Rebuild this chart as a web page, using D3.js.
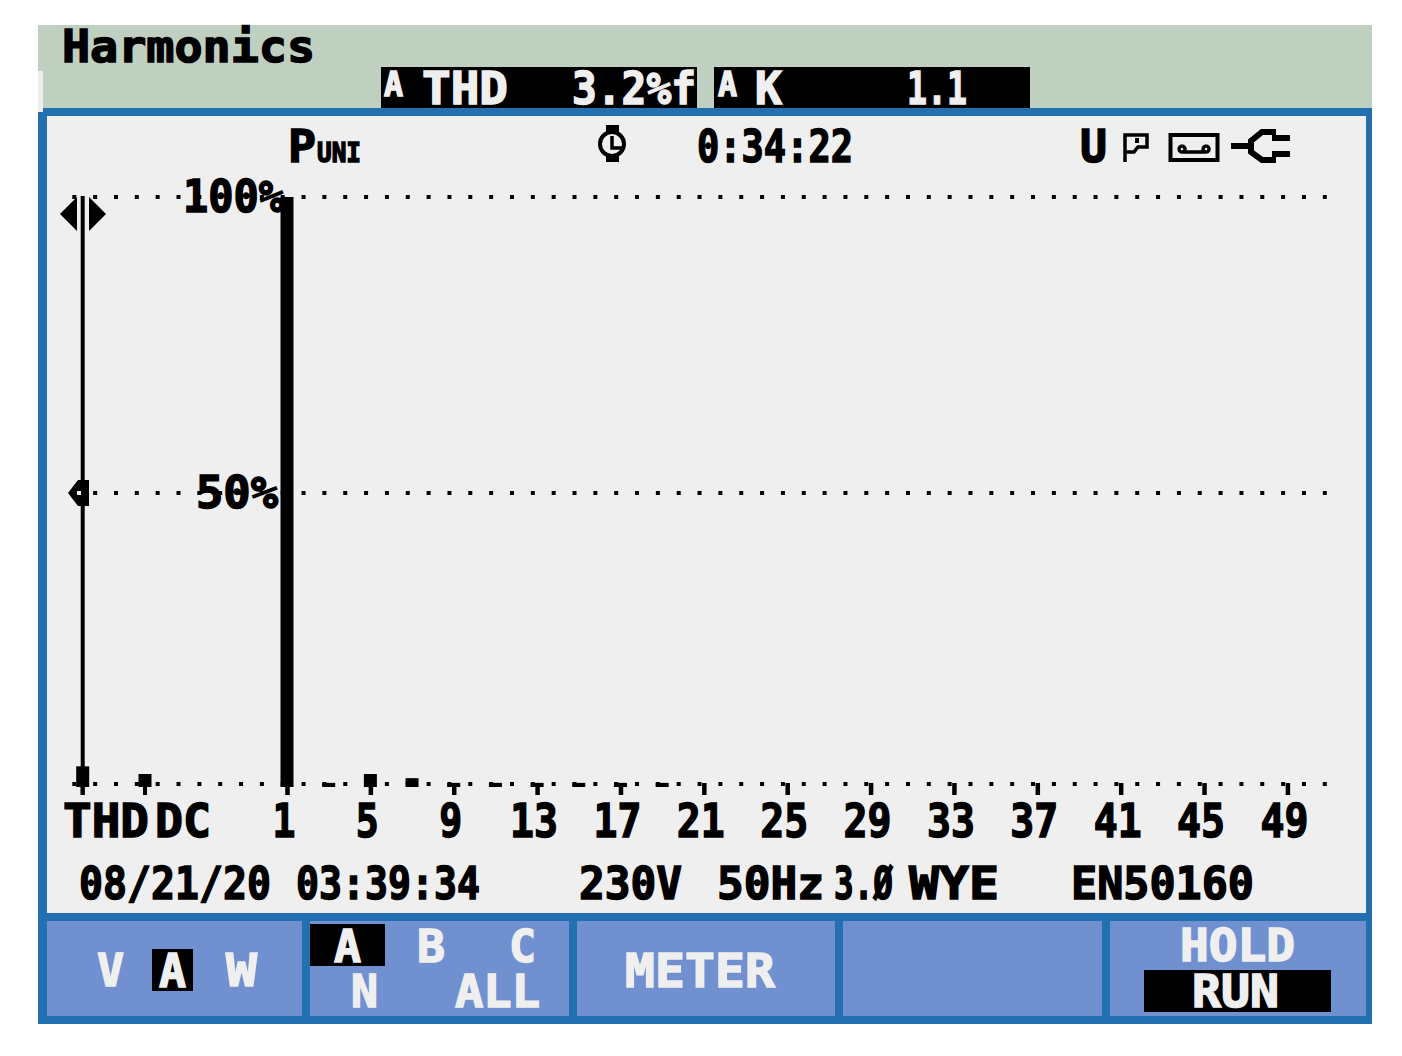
<!DOCTYPE html>
<html>
<head>
<meta charset="utf-8">
<title>Harmonics</title>
<script src="https://cdn.jsdelivr.net/npm/d3@7"></script>
<style>
    html, body { margin: 0; padding: 0; background: #fff; }
    svg { display: block; }
    text { font-family: "DejaVu Sans Mono", "Liberation Mono", monospace; font-weight: bold; }
</style>
</head>
<body>
<svg id="chart" width="1402" height="1056"></svg>
<script>
// Values, in percent of the fundamental
const thdValue = 3.5;
const dcValue = 2.2;
const harmonicValues = [
    100, 0, 0.7, 0, 2.2, 0, 1.5, 0, 0.7, 0,
    0.7, 0, 0.7, 0, 0.7, 0, 0.7, 0, 0.7, 0,
    0, 0, 0, 0, 0, 0, 0, 0, 0, 0,
    0, 0, 0, 0, 0, 0, 0, 0, 0, 0,
    0, 0, 0, 0, 0, 0, 0, 0, 0, 0
];
const tickOrders = [1, 5, 9, 13, 17, 21, 25, 29, 33, 37, 41, 45, 49];
const gridLevels = [0, 50, 100];
const levelLabels = ["50%", "100%"];

const BLUE = "#2270b0";
const KEY = "#7090d0";
const PANEL = "#efefef";
const GREEN = "#bfcfc0";

const svg = d3.select("#chart");

// Scales: the harmonics sit on a regular slot grid, THD and DC are off to the left of it
const x = d3.scaleLinear().domain([1, 49]).range([287, 1287.4]);
const y = d3.scaleLinear().domain([0, 100]).range([787, 197]);
const slotWidth = x(2) - x(1);
const xThd = 82.7;
const xDc = 145;

function box(x0, y0, x1, y1, fill) {
    return svg.append("rect")
        .attr("x", x0).attr("y", y0)
        .attr("width", x1 - x0).attr("height", y1 - y0)
        .attr("fill", fill);
}

// Fit a string between two x positions, with its caps between top and baseline
function label(str, x0, x1, top, baseline, fill = "#000") {
    return svg.append("text")
        .attr("x", x0 - 1)
        .attr("y", baseline)
        .attr("font-size", (baseline - top) / 0.729)
        .attr("textLength", x1 - x0 + 2)
        .attr("lengthAdjust", "spacingAndGlyphs")
        .attr("fill", fill)
        .attr("stroke", fill)
        .attr("stroke-width", 1.5)
        .text(str);
}

// Screen frame
box(38, 25, 1372, 108, GREEN);
box(38, 108, 1372, 1024, BLUE);
box(38, 71, 43, 112, "#eeeeee");
box(47, 116, 1366, 913, PANEL);

const keyEdges = [[47, 302], [310, 569], [577, 835], [843, 1102], [1110, 1366]];
keyEdges.forEach(([a, b]) => box(a, 921, b, 1016, KEY));

// Header
label("Harmonics", 63, 314, 29, 62);
box(381, 67, 697, 108, "#000");
box(714, 67, 1030, 108, "#000");
label("A", 385, 402, 72, 96, PANEL);
label("THD", 423, 507, 71, 104, PANEL);
label("3.2%f", 573, 695, 71, 104, PANEL);
label("A", 719, 736, 72, 96, PANEL);
label("K", 756, 781, 71, 104, PANEL);
label("1.1", 908, 966, 71, 104, PANEL);

// Status row above the plot
label("P", 289, 315, 129, 162);
label("UNI", 318, 360, 142, 162);
label("0:34:22", 698, 852, 129, 162);
label("U", 1081, 1106, 129, 162);

// Clock icon
svg.append("circle").attr("cx", 612).attr("cy", 144).attr("r", 12)
    .attr("fill", "none").attr("stroke", "#000").attr("stroke-width", 4);
svg.append("path").attr("d", "M612,136V148H622")
    .attr("fill", "none").attr("stroke", "#000").attr("stroke-width", 3.5);
box(606, 125, 619, 132, "#000");
box(606, 155, 619, 162, "#000");

// Flag icon
svg.append("path").attr("d", "M1125,162V135H1147V147H1138L1134,152H1126")
    .attr("fill", "none").attr("stroke", "#000").attr("stroke-width", 3.5);
box(1135, 138, 1139, 143, "#000");

// Tape icon
svg.append("rect").attr("x", 1170.5).attr("y", 135).attr("width", 47).attr("height", 25)
    .attr("fill", "none").attr("stroke", "#000").attr("stroke-width", 4);
svg.append("path").attr("d", "M1182,146a3,3 0 1,0 0.1,0M1206,146a3,3 0 1,0 0.1,0M1182,152H1206")
    .attr("fill", "none").attr("stroke", "#000").attr("stroke-width", 3.5);

// Plug icon
svg.append("path").attr("d", "M1231,146H1250M1276,132H1262L1251,141V152L1262,160H1276M1272,138H1290M1272,154H1290")
    .attr("fill", "none").attr("stroke", "#000").attr("stroke-width", 6);

// Dotted level lines
const dotXs = d3.range(0, 61).map((i) => xThd - 8.4 + i * slotWidth);
gridLevels.forEach((level) => {
    svg.append("g").selectAll("rect")
        .data(dotXs)
        .join("rect")
        .attr("x", (d) => d - 2)
        .attr("y", y(level) - (level === 0 ? 5 : level === 50 ? 1 : 2))
        .attr("width", 4)
        .attr("height", 4)
        .attr("fill", "#000");
});

// Bottom ticks from the library axis, its labels are set by hand further down
const axis = d3.axisBottom(x).tickValues(tickOrders).tickSize(12).tickFormat("");
const axisG = svg.append("g").attr("transform", "translate(0,783)").call(axis);
axisG.select(".domain").remove();
axisG.selectAll("line").attr("stroke", "#000").attr("stroke-width", 4.5);
box(xThd - 2, 783, xThd + 2, 795, "#000");
box(xDc - 2, 783, xDc + 2, 795, "#000");

// Bars
const barData = [
    { x: xThd, value: thdValue },
    { x: xDc, value: dcValue },
    ...harmonicValues.map((value, i) => ({ x: x(i + 1), value }))
].filter((d) => d.value > 0);

svg.append("g").selectAll("rect")
    .data(barData)
    .join("rect")
    .attr("x", (d) => d.x - 6.5)
    .attr("y", (d) => y(d.value))
    .attr("width", 13)
    .attr("height", (d) => y(0) - y(d.value))
    .attr("fill", "#000");

// Cursor line at the left with its markers
box(xThd - 2, 196, xThd + 2, 795, "#000");
svg.append("path").attr("d", "M60,214L77,197V231Z").attr("fill", "#000");
svg.append("path").attr("d", "M106,214L89,197V231Z").attr("fill", "#000");
svg.append("path").attr("d", "M68,493L78,480H89V506H78Z").attr("fill", "#000");
box(77, 491, 81, 495, PANEL);

// Level labels
label(levelLabels[1], 184, 283, 180, 212);
label(levelLabels[0], 197, 277, 476, 508);

// X labels
label("THD", 64, 148, 803, 837);
label("DC", 156, 210, 803, 837);
tickOrders.forEach((order) => {
    const s = String(order);
    const half = s.length === 1 ? 10.5 : 23;
    const cx = x(order) - 3;
    label(s, cx - half, cx + half, 803, 837);
});

// Meter settings row
label("08/21/20", 80, 270, 866, 899);
label("03:39:34", 297, 479, 866, 899);
label("230V", 580, 681, 866, 899);
label("50Hz", 718, 823, 866, 899);
label("3.Ø", 835, 892, 866, 899);
label("WYE", 910, 998, 866, 899);
label("EN50160", 1072, 1253, 866, 899);

// Soft keys
label("V", 98, 123, 953, 986, PANEL);
box(152, 949, 193, 991, "#000");
label("A", 160, 185, 953, 987, PANEL);
label("W", 227, 256, 953, 986, PANEL);

box(310, 924, 385, 966, "#000");
label("A", 335, 360, 929, 962, PANEL);
label("B", 418, 444, 929, 962, PANEL);
label("C", 510, 535, 929, 962, PANEL);
label("N", 352, 377, 974, 1007, PANEL);
label("ALL", 456, 539, 974, 1007, PANEL);

label("METER", 626, 774, 953, 987, PANEL);

label("HOLD", 1181, 1294, 928, 961, PANEL);
box(1144, 970, 1331, 1012, "#000");
label("RUN", 1193, 1278, 974, 1007, PANEL);
</script>
</body>
</html>
